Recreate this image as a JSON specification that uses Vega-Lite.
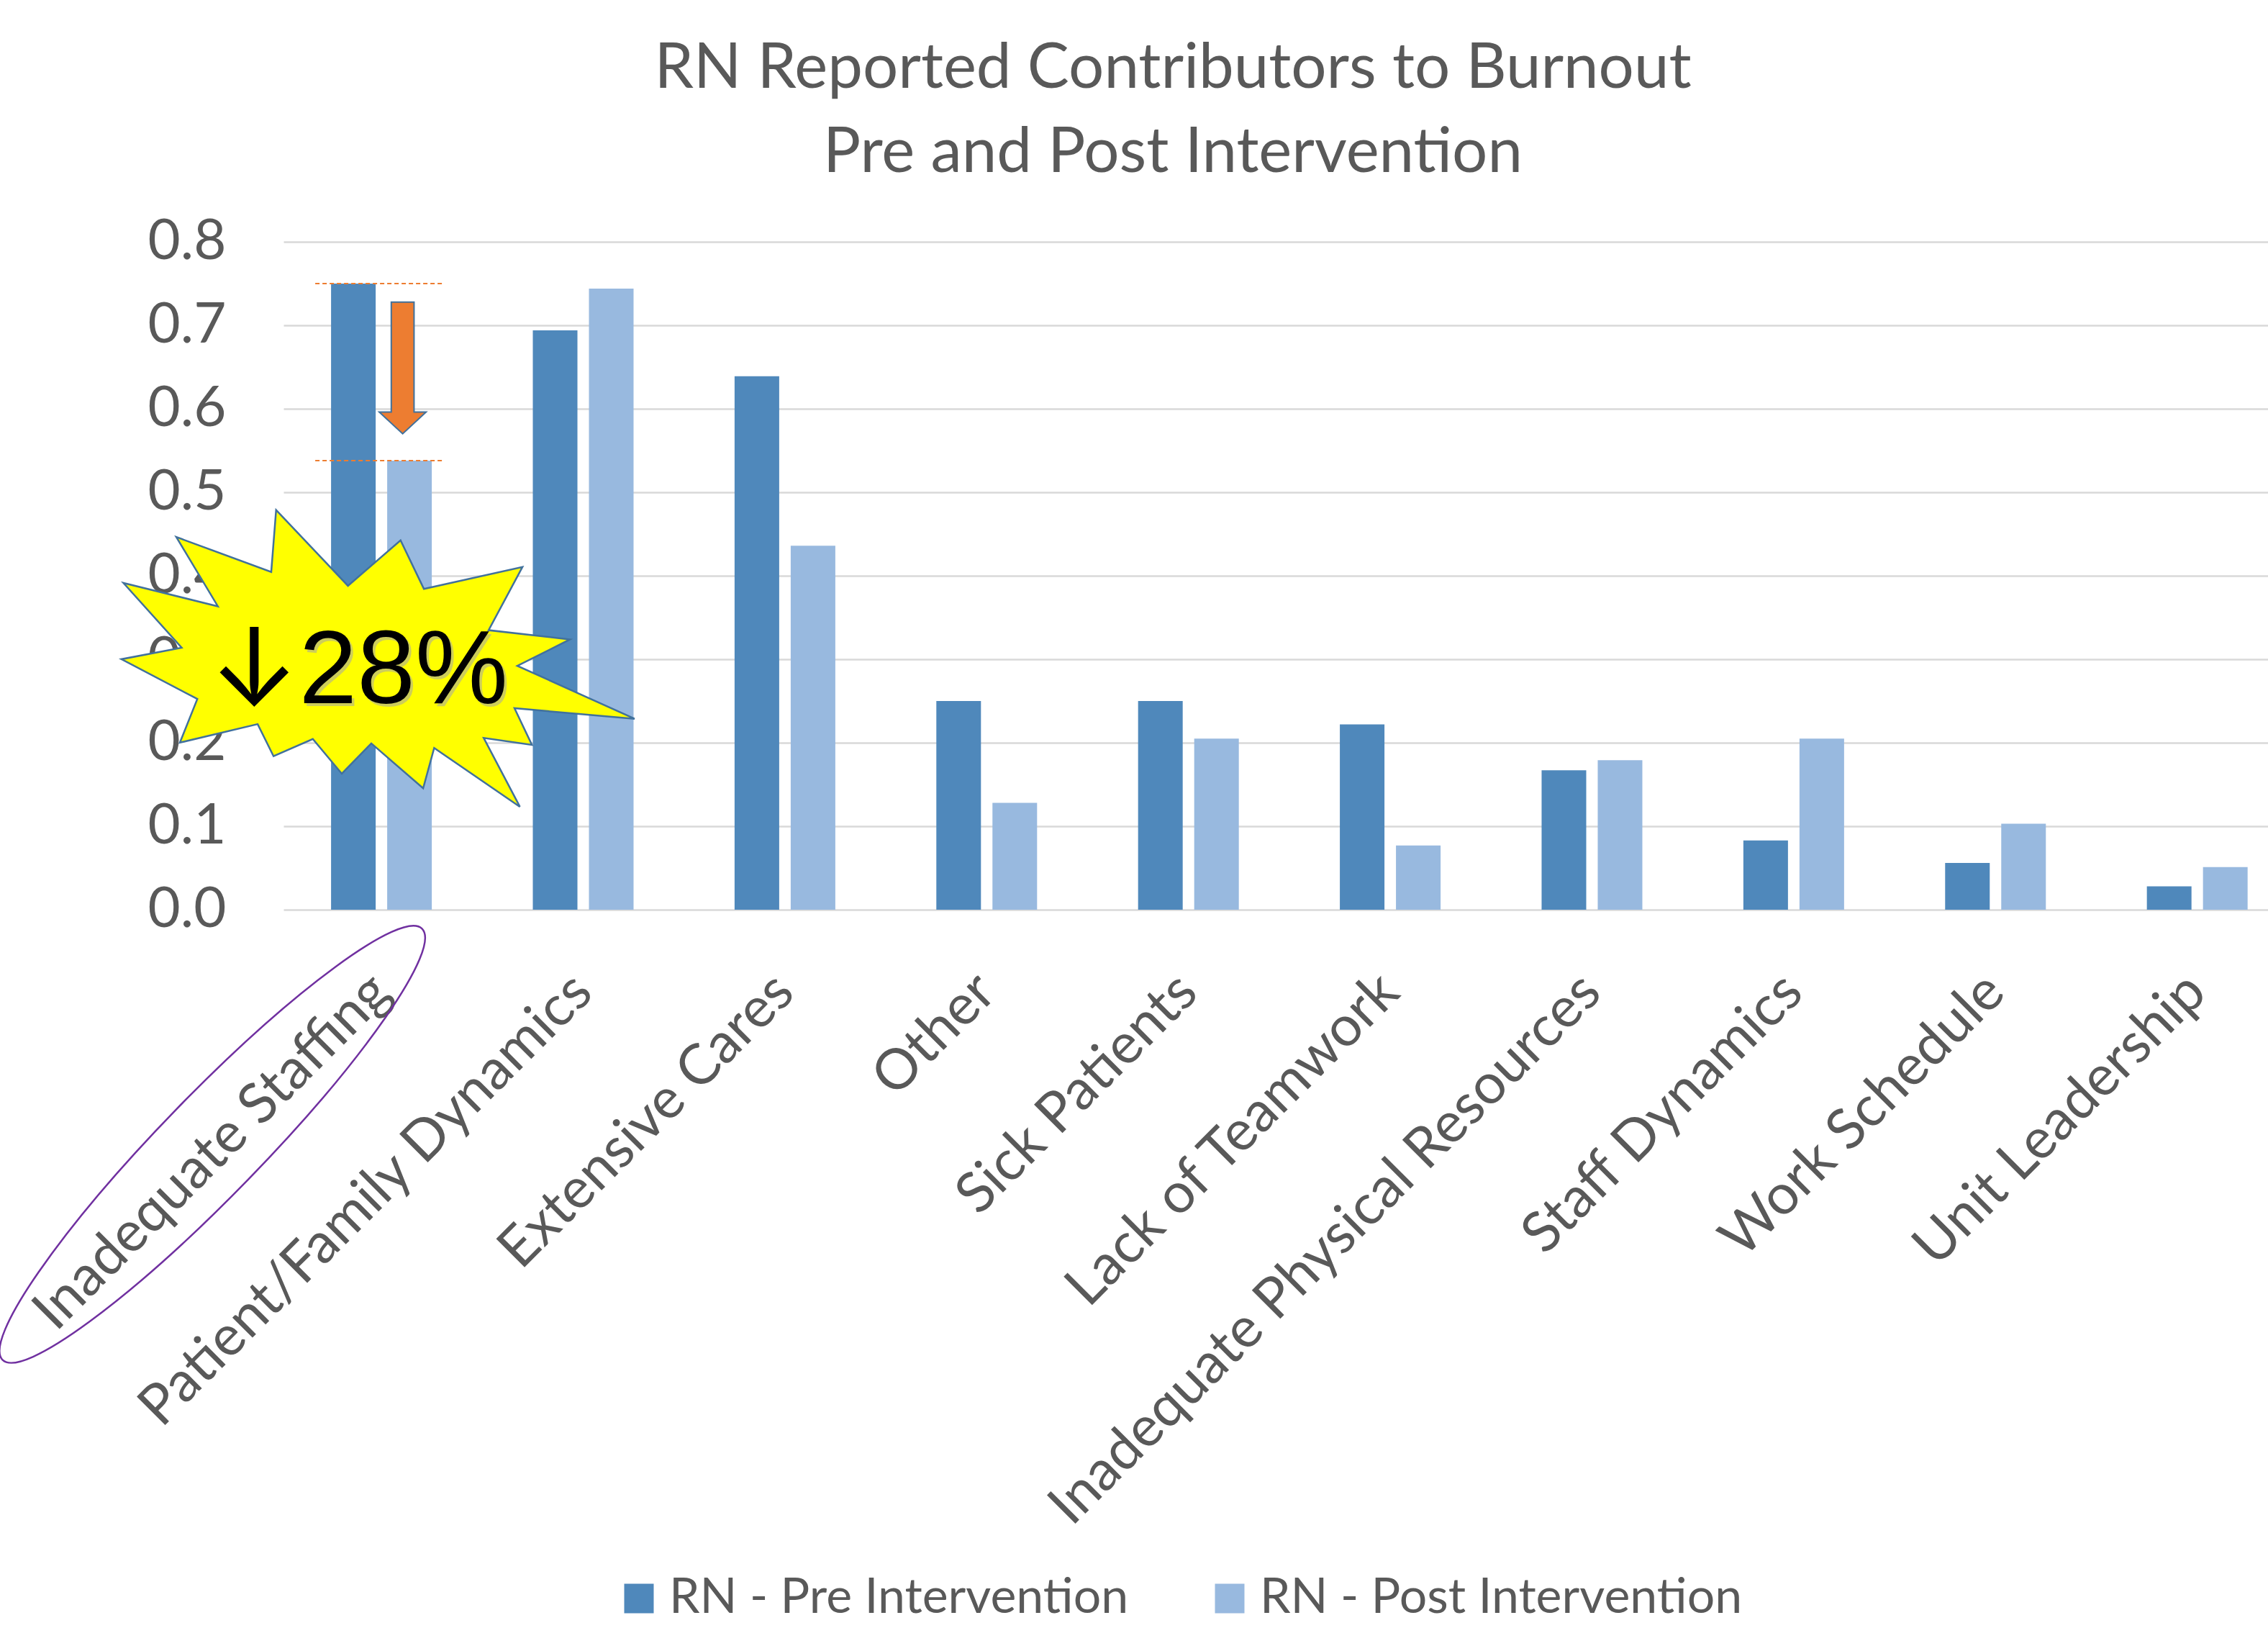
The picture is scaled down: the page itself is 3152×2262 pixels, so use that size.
{
  "$schema": "https://vega.github.io/schema/vega-lite/v6.json",
  "width": 2758,
  "height": 928,
  "autosize": {"type": "none"},
  "padding": {"left": 394, "top": 336, "right": 0, "bottom": 998},
  "background": "white",
  "config": {
    "font": "Lato",
    "view": {"stroke": null}
  },
  "title": {
    "text": ["RN Reported Contributors to Burnout", "Pre and Post Intervention"],
    "font": "Lato",
    "fontSize": 87,
    "fontWeight": "normal",
    "color": "#595959",
    "lineHeight": 117,
    "anchor": "middle",
    "frame": "group",
    "dx": -143,
    "offset": 40
  },
  "datasets": {
    "bars": [
      {"category": "Inadequate Staffing", "series": "RN - Pre Intervention", "value": 0.75},
      {"category": "Inadequate Staffing", "series": "RN - Post Intervention", "value": 0.538},
      {"category": "Patient/Family Dynamics", "series": "RN - Pre Intervention", "value": 0.694},
      {"category": "Patient/Family Dynamics", "series": "RN - Post Intervention", "value": 0.744},
      {"category": "Extensive Cares", "series": "RN - Pre Intervention", "value": 0.639},
      {"category": "Extensive Cares", "series": "RN - Post Intervention", "value": 0.436},
      {"category": "Other", "series": "RN - Pre Intervention", "value": 0.25},
      {"category": "Other", "series": "RN - Post Intervention", "value": 0.128},
      {"category": "Sick Patients", "series": "RN - Pre Intervention", "value": 0.25},
      {"category": "Sick Patients", "series": "RN - Post Intervention", "value": 0.205},
      {"category": "Lack of Teamwork", "series": "RN - Pre Intervention", "value": 0.222},
      {"category": "Lack of Teamwork", "series": "RN - Post Intervention", "value": 0.077},
      {"category": "Inadequate Physical Resources", "series": "RN - Pre Intervention", "value": 0.167},
      {"category": "Inadequate Physical Resources", "series": "RN - Post Intervention", "value": 0.179},
      {"category": "Staff Dynamics", "series": "RN - Pre Intervention", "value": 0.083},
      {"category": "Staff Dynamics", "series": "RN - Post Intervention", "value": 0.205},
      {"category": "Work Schedule", "series": "RN - Pre Intervention", "value": 0.056},
      {"category": "Work Schedule", "series": "RN - Post Intervention", "value": 0.103},
      {"category": "Unit Leadership", "series": "RN - Pre Intervention", "value": 0.028},
      {"category": "Unit Leadership", "series": "RN - Post Intervention", "value": 0.051}
    ],
    "levels": [
      {"category": "Inadequate Staffing", "value": 0.75},
      {"category": "Inadequate Staffing", "value": 0.538}
    ],
    "arrow": [{"category": "Inadequate Staffing", "value": 0.649}],
    "burst": [{"category": "Inadequate Staffing", "value": 0.301}],
    "callout": [{"category": "Inadequate Staffing", "value": 0.2474, "label": "28%"}],
    "calloutArrow": [{"category": "Inadequate Staffing", "value": 0.2474, "label": "↓"}],
    "ring": [{"category": "Inadequate Staffing", "value": -0.281}]
  },
  "layer": [
    {
      "data": {"name": "bars"},
      "mark": {"type": "bar"},
      "encoding": {
        "x": {
          "field": "category",
          "type": "nominal",
          "sort": null,
          "scale": {
            "domain": ["Inadequate Staffing", "Patient/Family Dynamics", "Extensive Cares", "Other", "Sick Patients", "Lack of Teamwork", "Inadequate Physical Resources", "Staff Dynamics", "Work Schedule", "Unit Leadership"],
            "paddingInner": 0.5007,
            "paddingOuter": 0.1684,
            "align": 0.7
          },
          "axis": {
            "title": null,
            "labelAngle": -45,
            "labelAlign": "right",
            "labelBaseline": "middle",
            "labelFont": "Lato",
            "labelFontSize": 78,
            "labelColor": "#595959",
            "labelPadding": 102,
            "labelLimit": 3000,
            "ticks": false,
            "domain": false,
            "grid": false
          }
        },
        "xOffset": {
          "field": "series",
          "type": "nominal",
          "scale": {"domain": ["RN - Pre Intervention", "RN - Post Intervention"], "paddingInner": 0.205, "paddingOuter": 0}
        },
        "y": {
          "field": "value",
          "type": "quantitative",
          "scale": {"domain": [0, 0.8], "nice": false},
          "axis": {
            "title": null,
            "values": [0, 0.1, 0.2, 0.3, 0.4, 0.5, 0.6, 0.7, 0.8],
            "format": ".1f",
            "labelFont": "Lato",
            "labelFontSize": 78,
            "labelColor": "#595959",
            "labelPadding": 80,
            "ticks": false,
            "domain": false,
            "grid": true,
            "gridColor": "#d9d9d9",
            "gridWidth": 2.5
          }
        },
        "color": {
          "field": "series",
          "type": "nominal",
          "scale": {"domain": ["RN - Pre Intervention", "RN - Post Intervention"], "range": ["#4f88bb", "#98b9df"]},
          "legend": {
            "title": null,
            "orient": "none",
            "legendX": 460,
            "legendY": 1851,
            "direction": "horizontal",
            "columns": 2,
            "symbolType": "square",
            "symbolSize": 1681,
            "symbolStrokeWidth": 0,
            "labelFont": "Lato",
            "labelFontSize": 68,
            "labelColor": "#595959",
            "labelOffset": 8,
            "labelLimit": 3000,
            "columnPadding": 106
          }
        }
      }
    },
    {
      "data": {"name": "levels"},
      "mark": {"type": "rule", "color": "#ed7d31", "strokeWidth": 2, "strokeDash": [6, 4], "xOffset": -22, "x2Offset": 17},
      "encoding": {
        "x": {"field": "category", "type": "nominal", "bandPosition": 0},
        "x2": {"field": "category", "bandPosition": 1},
        "y": {"field": "value", "type": "quantitative"}
      }
    },
    {
      "data": {"name": "arrow"},
      "mark": {
        "type": "point",
        "shape": "M -0.173 -1 L 0.173 -1 L 0.173 0.671 L 0.356 0.671 L 0 1 L -0.356 0.671 L -0.173 0.671 Z",
        "size": 33489,
        "filled": true,
        "fill": "#ed7d31",
        "stroke": "#41719c",
        "strokeWidth": 2,
        "opacity": 1,
        "xOffset": 29.5
      },
      "encoding": {
        "x": {"field": "category", "type": "nominal"},
        "y": {"field": "value", "type": "quantitative"}
      }
    },
    {
      "data": {"name": "burst"},
      "mark": {
        "type": "point",
        "shape": "M -0.397 -0.578 L -0.117 -0.283 L 0.088 -0.46 L 0.179 -0.271 L 0.563 -0.356 L 0.431 -0.11 L 0.748 -0.074 L 0.543 0.029 L 1 0.235 L 0.532 0.194 L 0.6 0.337 L 0.412 0.31 L 0.553 0.578 L 0.219 0.349 L 0.176 0.506 L -0.026 0.331 L -0.141 0.449 L -0.254 0.314 L -0.407 0.381 L -0.469 0.256 L -0.772 0.328 L -0.704 0.158 L -1 0.003 L -0.765 -0.042 L -0.992 -0.294 L -0.624 -0.203 L -0.786 -0.473 L -0.416 -0.337 Z",
        "size": 508654,
        "filled": true,
        "fill": "#ffff00",
        "stroke": "#41719c",
        "strokeWidth": 2.5,
        "opacity": 1,
        "xOffset": -4.8
      },
      "encoding": {
        "x": {"field": "category", "type": "nominal"},
        "y": {"field": "value", "type": "quantitative"}
      }
    },
    {
      "data": {"name": "callout"},
      "mark": {"type": "text", "font": "Liberation Sans", "fontSize": 145, "color": "#a6a6a6", "opacity": 0.55, "align": "left", "baseline": "alphabetic", "dx": -111, "dy": 4},
      "encoding": {
        "x": {"field": "category", "type": "nominal"},
        "y": {"field": "value", "type": "quantitative"},
        "text": {"field": "label"}
      }
    },
    {
      "data": {"name": "callout"},
      "mark": {"type": "text", "font": "Liberation Sans", "fontSize": 145, "color": "#000000", "align": "left", "baseline": "alphabetic", "dx": -114.5},
      "encoding": {
        "x": {"field": "category", "type": "nominal"},
        "y": {"field": "value", "type": "quantitative"},
        "text": {"field": "label"}
      }
    },
    {
      "data": {"name": "calloutArrow"},
      "mark": {"type": "text", "font": "Inter", "fontSize": 150, "color": "#000000", "align": "center", "baseline": "alphabetic", "dx": -176.7, "dy": 3},
      "encoding": {
        "x": {"field": "category", "type": "nominal"},
        "y": {"field": "value", "type": "quantitative"},
        "text": {"field": "label"}
      }
    },
    {
      "data": {"name": "ring"},
      "mark": {
        "type": "point",
        "shape": "M 1 0 C 1 0.0922 0.5523 0.167 0 0.167 C -0.5523 0.167 -1 0.0922 -1 0 C -1 -0.0922 -0.5523 -0.167 0 -0.167 C 0.5523 -0.167 1 -0.0922 1 0 Z",
        "size": 698896,
        "angle": 314.2,
        "filled": false,
        "stroke": "#7030a0",
        "strokeWidth": 2.5,
        "opacity": 1,
        "xOffset": -235
      },
      "encoding": {
        "x": {"field": "category", "type": "nominal"},
        "y": {"field": "value", "type": "quantitative"}
      }
    }
  ]
}
